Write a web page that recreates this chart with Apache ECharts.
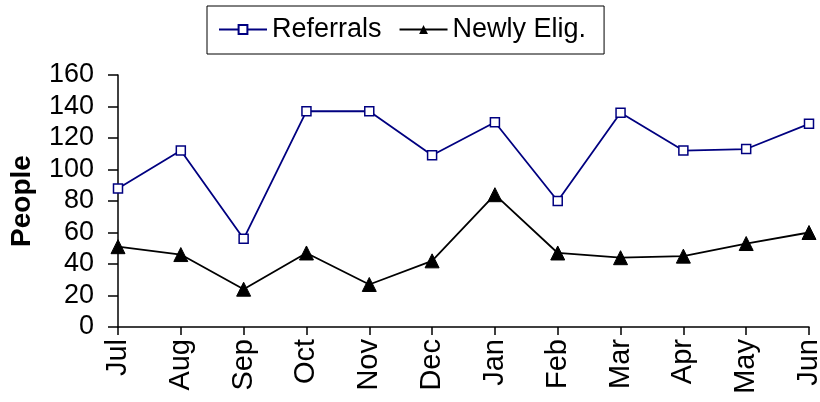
<!DOCTYPE html>
<html>
<head>
<meta charset="utf-8">
<script src="https://cdn.jsdelivr.net/npm/echarts@6/dist/echarts.min.js"></script>
<style>
html,body{margin:0;padding:0;background:#fff;}
#chart{width:820px;height:402px;}
</style>
</head>
<body>
<div id="chart"></div>
<script>
var months = ['Jul','Aug','Sep','Oct','Nov','Dec','Jan','Feb','Mar','Apr','May','Jun'];
var referrals = [88, 112, 56, 137, 137, 109, 130, 80, 136, 112, 113, 129];
var newlyElig = [51, 46, 24, 47, 27, 42, 84, 47, 44, 45, 53, 60];
var yTicks = [0, 20, 40, 60, 80, 100, 120, 140, 160];

var FONT = "'Liberation Sans', Arial, sans-serif";
var chart = echarts.init(document.getElementById('chart'), null, {renderer: 'canvas'});
chart.setOption({
  animation: false,
  backgroundColor: '#fff',
  textStyle: {fontFamily: FONT},
  legend: {
    left: 207, top: 6,
    padding: [10, 18, 11, 11],
    itemWidth: 48, itemHeight: 11, itemGap: 17,
    borderColor: '#000', borderWidth: 1,
    textStyle: {fontSize: 27, color: '#000', fontFamily: FONT},
    data: ['Referrals', 'Newly Elig.']
  },
  grid: {left: 118, right: 11, top: 75, bottom: 75, containLabel: false, outerBoundsMode: 'none'},
  xAxis: {
    type: 'category',
    data: months,
    boundaryGap: false,
    axisLine: {lineStyle: {color: '#000', width: 1.5}},
    axisTick: {alignWithLabel: true, length: 8, lineStyle: {color: '#000', width: 1.5}},
    axisLabel: {rotate: 90, fontSize: 29, color: '#000', margin: 12, fontFamily: FONT, interval: 0}
  },
  yAxis: {
    type: 'value',
    min: yTicks[0], max: yTicks[yTicks.length - 1], interval: yTicks[1] - yTicks[0],
    name: 'People',
    nameLocation: 'middle',
    nameGap: 82,
    nameTextStyle: {fontSize: 28, fontWeight: 'bold', color: '#000', fontFamily: FONT},
    axisLine: {show: true, lineStyle: {color: '#000', width: 1.5}},
    axisTick: {show: true, length: 10, lineStyle: {color: '#000', width: 1.5}},
    axisLabel: {fontSize: 27, color: '#000', margin: 24, fontFamily: FONT},
    splitLine: {show: false}
  },
  series: [
    {
      name: 'Referrals', type: 'line', data: referrals,
      symbol: 'rect', symbolSize: 9,
      lineStyle: {color: '#000080', width: 1.8},
      itemStyle: {color: '#fff', borderColor: '#000080', borderWidth: 1.5}
    },
    {
      name: 'Newly Elig.', type: 'line', data: newlyElig,
      symbol: 'triangle', symbolSize: 14,
      lineStyle: {color: '#000', width: 1.8},
      itemStyle: {color: '#000', borderColor: '#000'}
    }
  ]
});
</script>
</body>
</html>
